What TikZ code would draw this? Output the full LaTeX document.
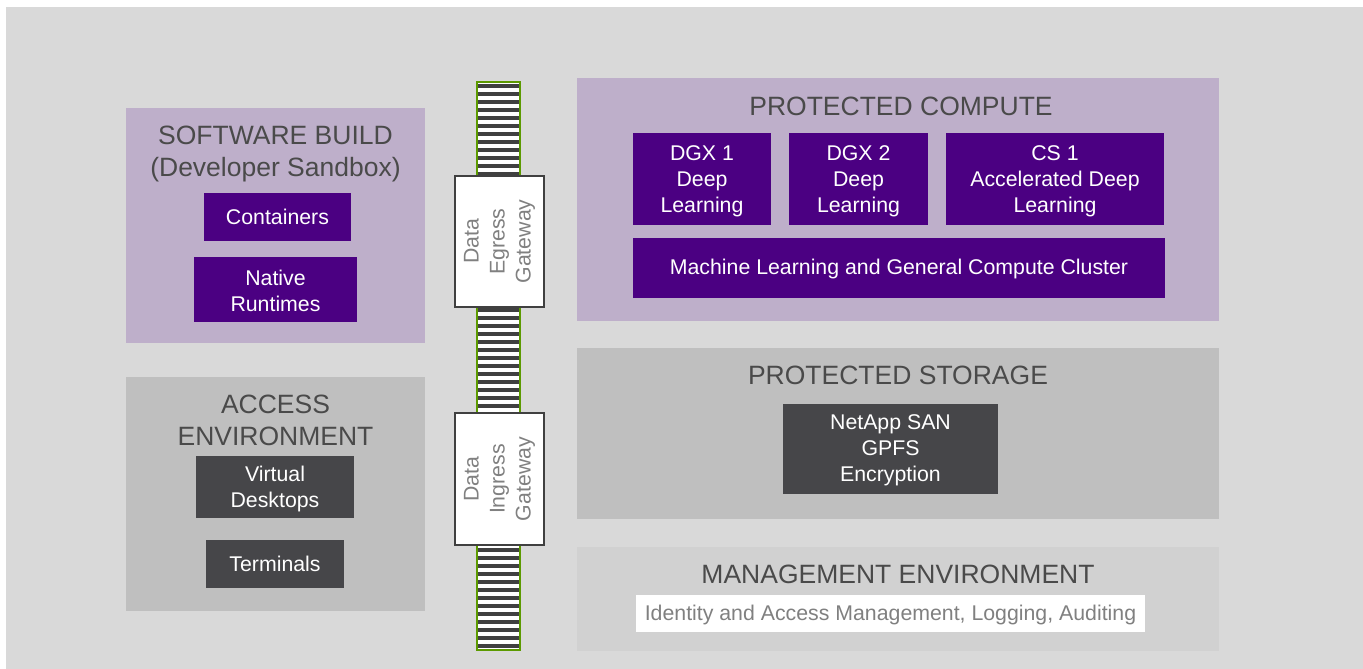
\documentclass[tikz,border=0pt]{standalone}
\usepackage{fontspec}
\setmainfont{Liberation Sans}
\definecolor{bg}{HTML}{D9D9D9}
\definecolor{lav}{HTML}{BEAFCA}
\definecolor{indig}{HTML}{4B0082}
\definecolor{midgray}{HTML}{BFBFBF}
\definecolor{mgmtgray}{HTML}{D1D1D1}
\definecolor{darkbox}{HTML}{464649}
\definecolor{titlegray}{HTML}{4A4A4A}
\definecolor{softgray}{HTML}{808080}
\definecolor{stripe}{HTML}{404040}
\definecolor{bargreen}{HTML}{5C9A00}
\tikzset{
  zone/.style={draw=none, inner sep=0pt, outer sep=0pt},
  zonetitle/.style={text=titlegray, font=\fontsize{26.5}{32}\selectfont, align=center, inner sep=0pt},
  purplebox/.style={fill=indig, inner sep=0pt, outer sep=0pt},
  darkbx/.style={fill=darkbox, inner sep=0pt, outer sep=0pt},
  boxtext/.style={text=white, font=\fontsize{21.3}{26}\selectfont, align=center, inner sep=0pt},
  gatebox/.style={fill=white, draw=stripe, line width=1.6pt, inner sep=0pt, outer sep=0pt},
  gatetext/.style={text=softgray, font=\fontsize{21.3}{26}\selectfont, align=center, rotate=90, inner sep=0pt}
}
\begin{document}
\begin{tikzpicture}[x=1pt, y=-1pt]
\useasboundingbox (0,0) rectangle (1363,669);
\fill[bg] (6,7) rectangle (1363,669);

% Software build
\node[zone, fill=lav, minimum width=299pt, minimum height=235pt] (sw) at (275.5,225.5) {};
\node[zonetitle] (swt) at (275.5,153.5) {SOFTWARE BUILD\\(Developer Sandbox)};
\node[purplebox, minimum width=147pt, minimum height=48pt] (cont) at (277.5,217) {};
\node[boxtext] at (cont.center) {Containers};
\node[purplebox, minimum width=163pt, minimum height=65pt] (nat) at (275.5,289.5) {};
\node[boxtext] at ([yshift=-1.5pt]nat.center) {Native\\Runtimes};

% Access environment
\node[zone, fill=midgray, minimum width=299pt, minimum height=234pt] (acc) at (275.5,494) {};
\node[zonetitle] (acct) at (275.5,420) {ACCESS\\ENVIRONMENT};
\node[darkbx, minimum width=158pt, minimum height=62pt] (vd) at (275,487) {};
\node[boxtext] at ([yshift=-1.5pt]vd.center) {Virtual\\Desktops};
\node[darkbx, minimum width=138pt, minimum height=48pt] (term) at (275,564) {};
\node[boxtext] at (term.center) {Terminals};

% Protected compute
\node[zone, fill=lav, minimum width=642pt, minimum height=243pt] (pc) at (898,199.5) {};
\node[zonetitle] (pct) at (901,106.5) {PROTECTED COMPUTE};
\node[purplebox, minimum width=138pt, minimum height=92pt] (dgx1) at (702,179) {};
\node[boxtext] at ([yshift=-2pt]dgx1.center) {DGX 1\\Deep\\Learning};
\node[purplebox, minimum width=139pt, minimum height=92pt] (dgx2) at (858.5,179) {};
\node[boxtext] at ([yshift=-2pt]dgx2.center) {DGX 2\\Deep\\Learning};
\node[purplebox, minimum width=218pt, minimum height=92pt] (cs1) at (1055,179) {};
\node[boxtext] at ([yshift=-2pt]cs1.center) {CS 1\\Accelerated Deep\\Learning};
\node[purplebox, minimum width=532pt, minimum height=60pt] (ml) at (899,268) {};
\node[boxtext] at ([yshift=-1pt]ml.center) {Machine Learning and General Compute Cluster};

% Protected storage
\node[zone, fill=midgray, minimum width=642pt, minimum height=171pt] (ps) at (898,433.5) {};
\node[zonetitle] (pst) at (898,375.5) {PROTECTED STORAGE};
\node[darkbx, minimum width=215pt, minimum height=90pt] (netapp) at (890.5,449) {};
\node[boxtext] at ([yshift=-1.5pt]netapp.center) {NetApp SAN\\GPFS\\Encryption};

% Management
\node[zone, fill=mgmtgray, minimum width=642pt, minimum height=104pt] (mg) at (898,599) {};
\node[zonetitle] (mgt) at (898,574.5) {MANAGEMENT ENVIRONMENT};
\node[fill=white, inner sep=0pt, minimum width=509pt, minimum height=37pt] (iam) at (890.5,613.5) {};
\node[text=softgray, font=\fontsize{21.3}{24}\selectfont, inner sep=0pt] at ([yshift=-1.5pt]iam.center) {Identity and Access Management, Logging, Auditing};

% Striped bar
\fill[white] (476,82) rectangle (520,650);
\foreach \k in {0,...,70} {
  \fill[stripe] (478,{84+8*\k}) rectangle (518.5,{87.7+8*\k});
}
\draw[bargreen, line width=2pt] (477,82.5) rectangle (519.5,649.5);

% Gateways
\node[gatebox, minimum width=89pt, minimum height=131pt] (egress) at (499.5,241.5) {};
\node[gatetext] (egt) at (egress.center) {Data\\Egress\\Gateway};
\node[gatebox, minimum width=89pt, minimum height=132pt] (ingress) at (499.5,479) {};
\node[gatetext] (igt) at (ingress.center) {Data\\Ingress\\Gateway};
\end{tikzpicture}
\end{document}
